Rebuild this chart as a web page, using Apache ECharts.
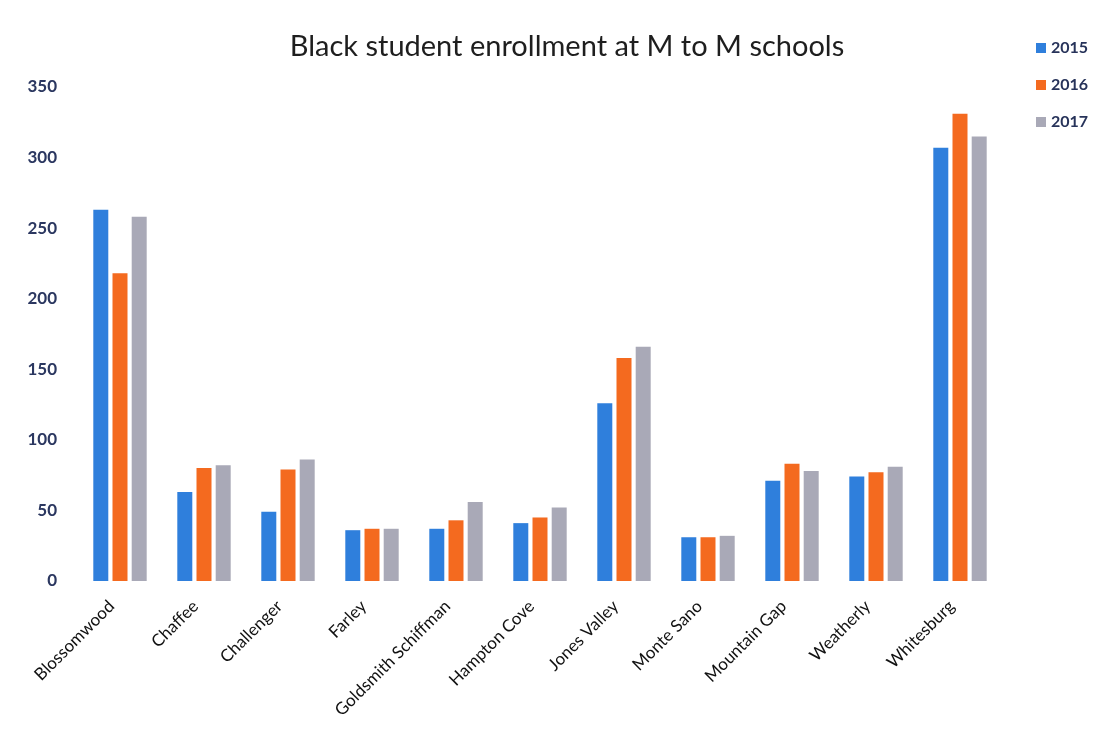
<!DOCTYPE html>
<html><head><meta charset="utf-8">
<script src="https://cdn.jsdelivr.net/npm/echarts@6/dist/echarts.min.js"></script>
<style>html,body{margin:0;padding:0;background:#fff}#c{width:1112px;height:734px}</style>
</head><body><div id="c"></div>
<script>
const categories = ['Blossomwood','Chaffee','Challenger','Farley','Goldsmith Schiffman','Hampton Cove','Jones Valley','Monte Sano','Mountain Gap','Weatherly','Whitesburg'];
const years = ['2015','2016','2017'];
const v2015 = [263, 63, 49, 36, 37, 41, 126, 31, 71, 74, 307];
const v2016 = [218, 80, 79, 37, 43, 45, 158, 31, 83, 77, 331];
const v2017 = [258, 82, 86, 37, 56, 52, 166, 32, 78, 81, 315];
const colors = ['#2f7fdc', '#f46a1f', '#a9a9b7'];
const values = [v2015, v2016, v2017];

const chart = echarts.init(document.getElementById('c'));
chart.setOption({
  animation: false,
  backgroundColor: '#fff',
  title: {
    text: 'Black student enrollment at M to M schools',
    left: 562, top: 27, textAlign: 'center',
    textStyle: {fontFamily: 'Lato', fontSize: 29, fontWeight: 'normal', color: '#1e1e1e'}
  },
  legend: {
    orient: 'vertical', left: 1031, top: 35, itemGap: 21,
    itemWidth: 10, itemHeight: 10, icon: 'rect',
    textStyle: {fontFamily: 'Lato', fontSize: 16, fontWeight: 'bold', color: '#27335a'}
  },
  grid: {left: 78, right: 110, top: 87, bottom: 153},
  xAxis: {
    type: 'category', data: categories,
    axisLine: {show: false}, axisTick: {show: false},
    axisLabel: {rotate: 45, interval: 0, margin: 14, padding: [0, 12, 0, 0], fontFamily: 'Lato', fontSize: 17, color: '#111'}
  },
  yAxis: {
    type: 'value', min: 0, max: 350, interval: 50,
    splitLine: {show: false}, axisLine: {show: false}, axisTick: {show: false},
    axisLabel: {margin: 21, fontFamily: 'Lato', fontSize: 17, fontWeight: 'bold', color: '#2b3760'}
  },
  series: years.map((y, i) => ({
    name: y, type: 'bar', data: values[i],
    barWidth: 15, barGap: '28%',
    itemStyle: {color: colors[i]}
  }))
});
</script></body></html>
